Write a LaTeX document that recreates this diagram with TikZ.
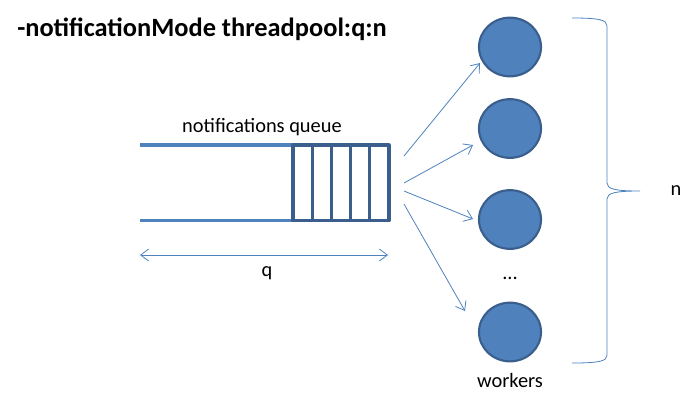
\documentclass[tikz,border=0pt]{standalone}
\usepackage{fontspec}
\setmainfont{Carlito}
\usetikzlibrary{arrows.meta,shapes.geometric}
\definecolor{lblue}{HTML}{4F81BD}
\definecolor{dblue}{HTML}{3A5F8D}
\begin{document}
\begin{tikzpicture}[x=0.75pt,y=-0.75pt,
  worker/.style={ellipse,draw=dblue,line width=1.6pt,fill=lblue,minimum width=46.5pt,minimum height=44pt,inner sep=0pt},
  feed/.style={draw=lblue,line width=0.6pt,-{Straight Barb[length=6pt,width=9pt]}},
  lbl/.style={font=\fontsize{15.3}{17}\selectfont,inner sep=0pt},
  qline/.style={draw=lblue,line width=2.4pt},
  slot/.style={draw=dblue,line width=2.4pt}]
\useasboundingbox (0,0) rectangle (695,405);
\node[anchor=west,font=\fontsize{19.8}{22}\selectfont\bfseries,inner sep=0pt] (title) at (17,29) {-notificationMode threadpool:q:n};
% queue
\coordinate (qtl) at (140,145);
\coordinate (qbl) at (140,220.5);
\coordinate (bx1) at (293,145);
\coordinate (bx2) at (389,220.5);
\draw[qline] (qtl) -- (bx1 |- qtl);
\draw[qline] (qbl) -- (bx1 |- qbl);
\draw[slot,line join=round] (bx1) rectangle (bx2);
\foreach \x in {312.5,331.5,350.5,369.5}{
  \draw[slot] (\x,145) -- (\x,220.5);
}
\node[lbl] (qlabel) at (262,127) {notifications queue};
% workers
\node[worker] (w1) at (510,47) {};
\node[worker] (w2) at (510,128.5) {};
\node[worker] (w3) at (510,219.5) {};
\node[worker] (w4) at (510,332) {};
\node[lbl] (dots) at (510,278) {...};
\node[lbl] (workers) at (510,380) {workers};
% arrows
\coordinate (s1) at (404,156);
\coordinate (s2) at (404,183);
\coordinate (s3) at (404,191);
\coordinate (s4) at (404,204);
\coordinate (e1) at (480,63);
\coordinate (e2) at (473,145);
\coordinate (e3) at (473,219);
\coordinate (e4) at (465,311);
\draw[feed] (s1) -- (e1);
\draw[feed] (s2) -- (e2);
\draw[feed] (s3) -- (e3);
\draw[feed] (s4) -- (e4);
% q dimension
\coordinate (ql) at (140,255);
\coordinate (qr) at (388,255);
\draw[draw=lblue,line width=0.6pt,{Straight Barb[length=6pt,width=9pt]}-{Straight Barb[length=6pt,width=9pt]}] (ql) -- (qr);
\node[lbl] (q) at (267,273) {q};
% brace
\coordinate (bt) at (572,18);
\coordinate (bm) at (640,191);
\coordinate (bb) at (572,363);
\draw[lblue,line width=0.6pt] (bt) .. controls (600,18) and (607,20) .. (607,26)
  -- (607,183) .. controls (607,189) and (615,191) .. (bm)
  .. controls (615,191) and (607,193) .. (607,199)
  -- (607,355) .. controls (607,361) and (600,363) .. (bb);
\node[lbl] (n) at (676,191) {n};
\end{tikzpicture}
\end{document}
